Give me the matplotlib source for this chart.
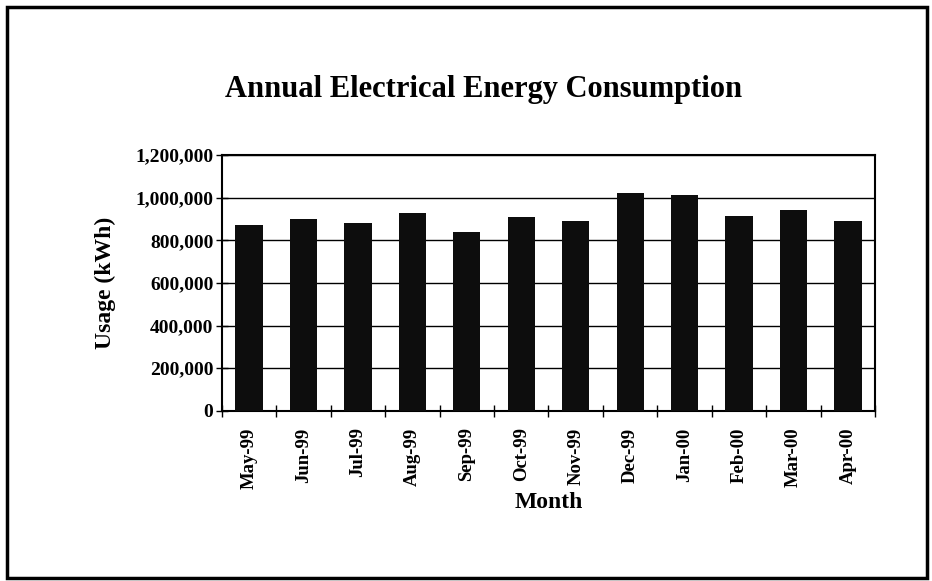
import matplotlib.pyplot as plt
import numpy as np
from matplotlib.ticker import FuncFormatter
from matplotlib.patches import Rectangle

# data
months = ['May-99', 'Jun-99', 'Jul-99', 'Aug-99', 'Sep-99', 'Oct-99',
          'Nov-99', 'Dec-99', 'Jan-00', 'Feb-00', 'Mar-00', 'Apr-00']
usage = [873000, 900000, 880000, 930000, 840000, 910000,
         893000, 1020000, 1015000, 915000, 943000, 893000]

plt.rcParams['font.family'] = ['Liberation Serif', 'DejaVu Serif']
plt.rcParams['font.weight'] = 'bold'

fig = plt.figure(figsize=(9.32, 5.81), dpi=100)
ax = fig.add_axes([0.238, 0.293, 0.701, 0.440])

x = np.arange(len(months))
ax.bar(x, usage, width=0.5, color='#0d0d0d', zorder=3)

ax.set_xlim(-0.5, len(months) - 0.5)
ax.set_ylim(0, 1200000)
ax.set_yticks(np.arange(0, 1200001, 200000))
ax.yaxis.set_major_formatter(FuncFormatter(lambda v, p: f"{int(v):,}"))
ax.grid(axis='y', color='black', linewidth=1.0, zorder=0)

ax.set_xticks(x)
ax.set_xticklabels(months, rotation=90)
ax.set_xticks(np.arange(-0.5, len(months), 1.0), minor=True)
ax.tick_params(axis='x', which='major', length=0, labelsize=13.5, pad=12)
ax.tick_params(axis='x', which='minor', direction='inout', length=8, width=1)
ax.tick_params(axis='y', direction='inout', length=8, width=1, labelsize=14, pad=2)

for s in ax.spines.values():
    s.set_linewidth(1.5)

ax.set_ylabel('Usage (kWh)', fontsize=17, fontweight='bold', labelpad=14)
ax.set_xlabel('Month', fontsize=17, fontweight='bold', labelpad=2)

fig.text(0.519, 0.846, 'Annual Electrical Energy Consumption',
         ha='center', va='center', fontsize=22, fontweight='bold')

# outer frame
fig.patches.append(Rectangle((0.008, 0.006), 0.987, 0.982, transform=fig.transFigure,
                             fill=False, edgecolor='black', linewidth=2.5))

fig.savefig('out.png', dpi=100)
